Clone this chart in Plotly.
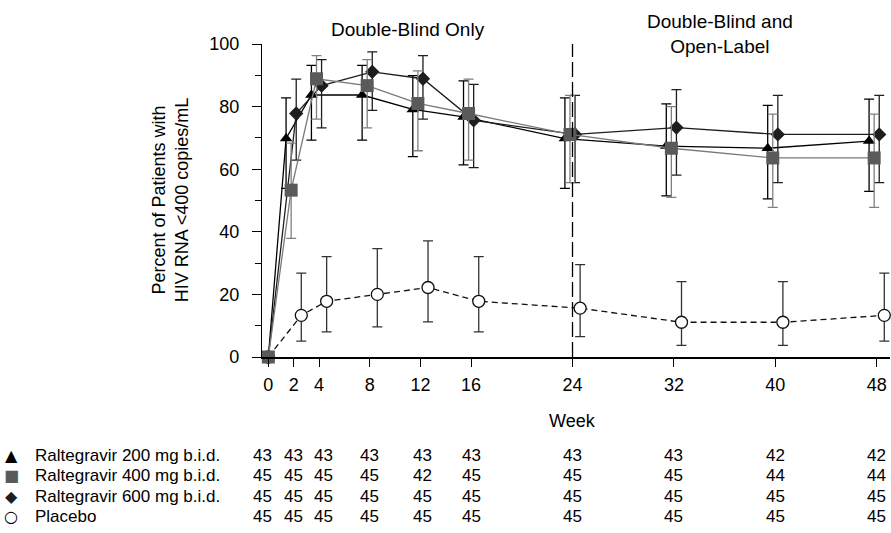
import plotly.graph_objects as go

# Study weeks on the x axis
weeks = [0, 2, 4, 8, 12, 16, 24, 32, 40, 48]

# Percent of patients with HIV RNA <400 copies/mL, with 95% CI bounds
r200 = [0, 69.8, 83.7, 83.7, 79.1, 76.7, 69.8, 67.4, 66.7, 69.0]
r200_hi = [None, 82.8, 93.2, 93.2, 89.9, 88.2, 82.8, 80.9, 80.4, 82.4]
r200_lo = [None, 53.9, 69.3, 69.3, 64.0, 61.4, 53.9, 51.5, 50.5, 52.9]

r400 = [0, 53.3, 88.9, 86.7, 81.0, 77.8, 71.1, 66.7, 63.6, 63.6]
r400_hi = [None, 68.3, 96.3, 95.0, 91.4, 88.8, 83.6, 80.0, 77.6, 77.6]
r400_lo = [None, 37.9, 76.0, 73.2, 65.9, 62.9, 55.7, 51.0, 47.8, 47.8]

r600 = [0, 77.8, 86.7, 91.1, 88.9, 75.6, 71.1, 73.3, 71.1, 71.1]
r600_hi = [None, 88.8, 95.0, 97.5, 96.3, 87.1, 83.6, 85.4, 83.6, 83.6]
r600_lo = [None, 62.9, 73.2, 78.8, 76.0, 60.5, 55.7, 58.1, 55.7, 55.7]

placebo = [0, 13.3, 17.8, 20.0, 22.2, 17.8, 15.6, 11.1, 11.1, 13.3]
placebo_hi = [None, 26.8, 32.1, 34.6, 37.1, 32.1, 29.5, 24.1, 24.1, 26.8]
placebo_lo = [None, 5.1, 8.0, 9.6, 11.2, 8.0, 6.5, 3.7, 3.7, 5.1]

# Number of patients evaluated at each week
n200 = [43, 43, 43, 43, 43, 43, 43, 43, 42, 42]
n400 = [45, 45, 45, 45, 42, 45, 45, 45, 44, 44]
n600 = [45, 45, 45, 45, 45, 45, 45, 45, 45, 45]
n_placebo = [45, 45, 45, 45, 45, 45, 45, 45, 45, 45]

group_labels = ["Raltegravir 200 mg b.i.d.", "Raltegravir 400 mg b.i.d.",
                "Raltegravir 600 mg b.i.d.", "Placebo"]
y_ticks = [0, 20, 40, 60, 80, 100]

FONT = "Arial, Liberation Sans, sans-serif"
GREY = "#5a5a5a"

# Small horizontal jitter (in weeks) so overlapping error bars stay readable
JITTER = {"r200": -0.6, "r400": -0.2, "r600": 0.2, "placebo": 0.6}


def jittered(offset):
    return [w if w == 0 else w + offset for w in weeks]


def err(vals, hi, lo):
    plus = [None if h is None else h - v for v, h in zip(vals, hi)]
    minus = [None if l is None else v - l for v, l in zip(vals, lo)]
    return plus, minus


fig = go.Figure()


def add_group(key, vals, hi, lo, line, marker, bar_color, dash="solid"):
    plus, minus = err(vals, hi, lo)
    fig.add_trace(go.Scatter(
        x=jittered(JITTER[key]), y=vals, mode="lines+markers",
        line=dict(color=line, width=1.3, dash=dash),
        marker=marker,
        error_y=dict(type="data", symmetric=False, array=plus, arrayminus=minus,
                     color=bar_color, thickness=1.3, width=5),
        cliponaxis=False, showlegend=False,
    ))


add_group("placebo", placebo, placebo_hi, placebo_lo, "#111111",
          dict(symbol="circle", size=12, color="white",
               line=dict(color="#111111", width=1.3)),
          "#333333", dash="6px,4px")
add_group("r200", r200, r200_hi, r200_lo, "#000000",
          dict(symbol="triangle-up", size=11, color="#000000"), "#000000")
add_group("r600", r600, r600_hi, r600_lo, "#1e1e1e",
          dict(symbol="diamond", size=11, color="#1e1e1e"), "#1e1e1e")
add_group("r400", r400, r400_hi, r400_lo, "#7a7a7a",
          dict(symbol="square", size=13, color=GREY), "#808080")

# Boundary between the double-blind and open-label periods
fig.add_shape(type="line", x0=24, x1=24, xref="x", y0=0, y1=1.0, yref="paper",
              line=dict(color="#000000", width=1.3, dash="15px,5px"))

fig_h = 533
plot_top, plot_bottom = 43.5, 357.0


def py(ypx):
    """Pixel row -> paper coordinate (paper spans the plot area)."""
    return (plot_bottom - ypx) / (plot_bottom - plot_top)


def px(xpx):
    return (xpx - 262) / 628


anns = []
anns.append(dict(text="Double-Blind Only", x=11.0, y=py(29), xref="x", yref="paper",
                 showarrow=False, font=dict(size=19, color="#000"),
                 xanchor="center", yanchor="middle"))
anns.append(dict(text="Double-Blind and<br>Open-Label", x=35.6, y=py(33), xref="x",
                 yref="paper", showarrow=False, font=dict(size=19, color="#000"),
                 xanchor="center", yanchor="middle"))
anns.append(dict(text="Percent of Patients with<br>HIV RNA <400 copies/mL",
                 x=px(170), y=py(200), xref="paper", yref="paper",
                 textangle=-90, showarrow=False, font=dict(size=18, color="#000"),
                 xanchor="center", yanchor="middle"))
anns.append(dict(text="Week", x=24, y=py(421), xref="x", yref="paper",
                 showarrow=False, font=dict(size=18, color="#000"),
                 xanchor="center", yanchor="middle"))

# Numbers-at-risk table beneath the axis
rows = [
    ("▲", "#000000", n200, 456),
    ("■", GREY, n400, 476),
    ("◆", "#1e1e1e", n600, 497),
    ("○", "#000000", n_placebo, 517),
]
col_shift = [-6, 0, 4, 0, 2, 0, 0, 0, 0, 0]
for (sym, col, counts, ypx), label in zip(rows, group_labels):
    anns.append(dict(text=sym, x=px(11), y=py(ypx), xref="paper",
                     yref="paper", yanchor="middle", xanchor="center",
                     showarrow=False, font=dict(size=16, color=col, family="DejaVu Sans")))
    anns.append(dict(text=label, x=px(33), y=py(ypx), xref="paper",
                     yref="paper", yanchor="middle", xanchor="left",
                     showarrow=False, font=dict(size=17, color="#000")))
    for w, c, s in zip(weeks, counts, col_shift):
        anns.append(dict(text=str(c), x=w, xshift=s, y=py(ypx), xref="x",
                         yref="paper", yanchor="middle", xanchor="center",
                         showarrow=False, font=dict(size=17, color="#000")))

fig.update_layout(
    width=891, height=fig_h,
    margin=dict(l=262, r=1, t=plot_top, b=fig_h - plot_bottom, pad=0),
    paper_bgcolor="white", plot_bgcolor="white",
    font=dict(family=FONT, size=18, color="#000"),
    annotations=anns,
    xaxis=dict(range=[-0.5, 49.05], tickmode="array", tickvals=weeks,
               ticktext=[str(w) for w in weeks], ticks="outside", ticklen=8,
               tickwidth=1.3, tickcolor="#000", showline=True, linecolor="#000",
               linewidth=1.5, showgrid=False, zeroline=False,
               ticklabelstandoff=3, tickfont=dict(size=18)),
    yaxis=dict(range=[0, 100], tickmode="array", tickvals=y_ticks,
               ticks="outside", ticklen=9, tickwidth=1.3, tickcolor="#000",
               showline=True, linecolor="#000", linewidth=1.3, showgrid=False,
               zeroline=False, ticklabelstandoff=9, tickfont=dict(size=18),
               minor=dict(ticks="outside", ticklen=6, tickwidth=1.3,
                          tickcolor="#000", dtick=10, tick0=0, showgrid=False)),
)

fig.write_html("out.html")
